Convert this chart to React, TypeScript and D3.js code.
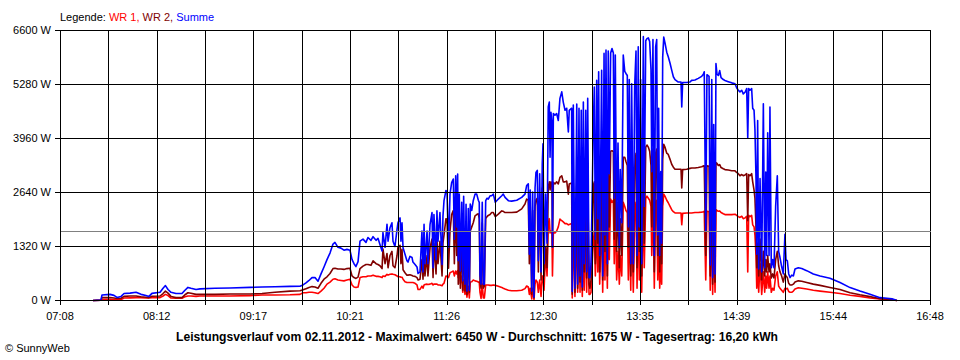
import React, { useEffect } from "react";
import * as d3 from "d3";

// time of each sample, minutes after midnight
const times = [
  450.0, 455.3, 456.0, 461.3, 464.0, 466.0, 468.7, 470.7, 474.7, 478.7,
  482.0, 485.3, 487.3, 489.3, 494.7, 496.7, 498.3, 500.0, 502.0, 505.3,
  509.3, 511.3, 513.3, 515.3, 518.7, 521.3, 531.3, 541.3, 554.7, 562.7,
  571.3, 581.3, 588.0, 590.0, 592.0, 594.0, 596.0, 598.0, 600.0, 602.0,
  604.0, 606.0, 608.0, 610.0, 611.3, 613.3, 615.3, 617.3, 619.3, 621.3,
  622.7, 624.0, 625.3, 626.7, 628.0, 630.0, 632.0, 633.3, 635.3, 636.7,
  638.7, 640.0, 641.3, 642.7, 643.3, 644.7, 646.0, 646.7, 648.0, 649.3,
  650.0, 651.3, 652.7, 653.3, 654.7, 655.3, 656.0, 656.7, 658.0, 659.3,
  660.0, 661.3, 662.7, 663.3, 664.7, 666.0, 666.7, 668.0, 669.3, 670.0,
  670.7, 671.3, 672.7, 673.3, 674.7, 676.0, 676.7, 677.3, 678.7, 679.3,
  680.0, 681.3, 682.7, 683.3, 684.0, 685.3, 686.0, 687.0, 688.0, 689.1,
  690.2, 690.9, 691.8, 692.5, 693.1, 693.5, 694.2, 694.9, 695.8, 696.5,
  697.1, 698.0, 698.7, 699.3, 700.2, 700.9, 701.5, 702.5, 703.5, 704.7,
  705.8, 706.9, 707.5, 708.0, 708.7, 709.5, 710.2, 710.9, 711.8, 712.7,
  713.5, 714.7, 715.8, 716.9, 718.2, 720.2, 722.5, 723.5, 724.7, 726.9,
  729.1, 732.5, 735.8, 738.0, 739.1, 740.2, 740.9, 741.5, 742.5, 743.1,
  744.0, 744.7, 745.3, 746.2, 746.9, 747.8, 748.7, 749.5, 750.0, 750.7,
  751.7, 752.7, 753.5, 754.2, 754.7, 755.3, 756.0, 756.3, 756.9, 758.0,
  759.1, 760.2, 761.3, 762.5, 763.5, 764.7, 765.8, 766.9, 767.5, 769.1,
  769.5, 770.2, 771.3, 772.5, 773.1, 774.0, 774.7, 775.5, 776.2, 776.9,
  777.5, 778.5, 779.1, 779.8, 780.7, 781.3, 782.0, 782.9, 783.5, 784.2,
  784.9, 785.8, 786.5, 787.1, 787.8, 789.1, 789.8, 790.7, 791.3, 792.0,
  792.9, 793.5, 794.2, 795.1, 796.0, 796.9, 797.5, 798.2, 799.1, 800.0,
  800.9, 801.5, 802.5, 803.5, 804.5, 805.3, 806.2, 806.9, 807.5, 808.5,
  809.1, 810.2, 811.1, 812.0, 812.7, 813.5, 814.2, 815.1, 815.8, 816.9,
  817.5, 818.5, 819.3, 820.2, 821.1, 822.0, 822.5, 823.3, 824.2, 825.1,
  825.8, 826.5, 827.1, 827.8, 828.5, 829.1, 829.8, 830.5, 831.3, 832.5,
  833.5, 834.7, 835.8, 836.9, 838.0, 840.2, 842.0, 842.5, 843.1, 845.8,
  848.0, 849.1, 851.3, 853.5, 855.8, 856.9, 857.5, 858.5, 859.3, 860.7,
  861.5, 862.5, 863.1, 863.8, 864.7, 865.3, 866.0, 866.9, 867.8, 868.7,
  870.2, 871.3, 873.5, 875.8, 878.0, 879.1, 880.2, 881.3, 882.5, 883.5,
  884.7, 885.8, 886.5, 887.1, 888.0, 889.1, 889.8, 890.7, 891.3, 892.0,
  892.5, 893.1, 893.8, 894.7, 895.8, 896.9, 897.8, 898.5, 899.1, 899.8,
  900.7, 901.3, 902.2, 903.1, 904.0, 905.1, 906.2, 907.1, 908.0, 909.1,
  910.2, 911.3, 912.0, 912.9, 913.8, 914.7, 915.8, 916.9, 918.0, 920.2,
  922.5, 925.8, 930.2, 934.7, 941.3, 948.0, 954.7, 961.3, 968.0, 974.7,
  979.3, 982.7, 986.0,
];

// Summe (W)
const summe = [
  0, 10, 135, 150, 125, 75, 100, 170, 180, 200,
  150, 120, 100, 175, 200, 300, 365, 270, 200, 170,
  170, 250, 320, 300, 270, 285, 300, 305, 320, 330,
  335, 345, 350, 380, 430, 490, 560, 560, 470, 650,
  820, 1000, 1160, 1380, 1420, 1300, 1280, 1230, 1250, 1230,
  1000, 900, 830, 950, 1450, 1500, 1420, 1540, 1470, 1560,
  1470, 1520, 1370, 1210, 1660, 1300, 1860, 1450, 1780, 1900,
  1450, 1320, 1740, 1900, 2020, 1450, 1900, 1290, 1130, 970,
  940, 1080, 1050, 940, 880, 820, 660, 700, 1700, 700,
  1860, 900, 1700, 900, 1860, 2150, 800, 2100, 1000, 2190,
  1450, 2150, 880, 2050, 2440, 2690, 2650, 1300, 2600, 2880,
  2970, 1500, 3050, 1800, 3090, 970, 2600, 720, 2400, 480,
  2550, 400, 2350, 230, 2250, 250, 2360, 2200, 2440, 2600,
  2600, 2450, 2400, 630, 400, 2400, 400, 400, 2440, 2500,
  2480, 2560, 2560, 2600, 2400, 2480, 2560, 2600, 2520, 2440,
  2430, 2450, 2520, 2600, 2810, 2850, 1130, 2700, 230, 2650,
  80, 2750, 3130, 3180, 970, 3100, 700, 3340, 3830, 900,
  2600, 1400, 4730, 4850, 3500, 4600, 4320, 1300, 4570, 4530,
  4570, 4400, 4940, 5100, 4850, 4650, 4700, 4120, 4650, 4700,
  220, 4780, 300, 4800, 400, 4700, 600, 4650, 330, 4850,
  900, 4650, 700, 4940, 560, 560, 900, 2800, 4200, 5220,
  1500, 5380, 2000, 5590, 1100, 5630, 600, 6040, 1600, 6120,
  900, 6100, 3100, 6050, 6160, 6050, 2500, 6000, 1700, 3850,
  1300, 3200, 1900, 6000, 5600, 5550, 5500, 1800, 5400, 900,
  5300, 900, 5220, 6100, 1100, 6200, 1800, 5400, 900, 6450,
  2300, 6350, 6400, 6420, 6330, 5650, 3150, 6380, 1100, 6200,
  6380, 1600, 4700, 1100, 3150, 1400, 5950, 6440, 6300, 6070,
  5960, 5800, 5630, 5470, 5400, 5340, 5340, 4730, 5330, 5330,
  5340, 5380, 5390, 5430, 5480, 5530, 5590, 1700, 5520, 5480,
  870, 5400, 560, 4300, 650, 5790, 5530, 5500, 5620, 5450,
  5400, 5380, 5350, 5320, 5300, 5200, 5140, 5100, 5140, 5050,
  5090, 5180, 3980, 5180, 5140, 5180, 4700, 4650, 4180, 2980,
  1130, 4400, 770, 2980, 700, 4810, 800, 3140, 1100, 4100,
  1100, 4730, 800, 1000, 800, 2300, 3050, 1200, 1050, 830,
  650, 1620, 1000, 970, 650, 560, 620, 600, 770, 800,
  780, 730, 650, 600, 545, 440, 315, 230, 150, 70,
  55, 40, 0,
];

// WR 2 (W)
const wr2 = [
  0, 10, 70, 75, 60, 50, 55, 100, 110, 110,
  90, 80, 70, 105, 110, 170, 230, 180, 100, 70,
  70, 140, 190, 175, 150, 150, 150, 160, 160, 170,
  200, 230, 240, 260, 290, 320, 340, 330, 300, 420,
  520, 580, 660, 780, 790, 770, 770, 760, 780, 790,
  600, 560, 540, 570, 780, 840, 880, 880, 860, 970,
  900, 880, 850, 780, 1260, 900, 1150, 800, 1100, 1200,
  850, 800, 1100, 1300, 1350, 900, 1250, 750, 680, 620,
  620, 630, 610, 600, 590, 560, 500, 520, 1000, 520,
  1150, 600, 1100, 600, 1300, 1500, 560, 1400, 650, 1500,
  900, 1450, 600, 1400, 1600, 2000, 1980, 790, 1700, 2100,
  2200, 900, 2300, 1100, 2310, 400, 1900, 300, 1600, 250,
  1700, 230, 1500, 150, 1400, 200, 1700, 1800, 1900, 2070,
  2100, 2120, 2000, 450, 300, 1900, 300, 350, 2000, 2050,
  2080, 2100, 2150, 2150, 2050, 2110, 2190, 2180, 2150, 2150,
  2150, 2160, 2240, 2360, 2480, 2450, 900, 2300, 150, 2200,
  60, 2300, 2450, 2500, 700, 2600, 500, 2750, 2750, 600,
  1300, 800, 2760, 2900, 2700, 2900, 2850, 1300, 2890, 2850,
  2900, 2850, 3010, 3050, 2900, 2900, 2920, 2600, 2850, 2870,
  150, 2880, 200, 2880, 300, 2870, 450, 2860, 250, 2900,
  700, 2850, 550, 2900, 400, 300, 500, 1600, 2800, 2900,
  900, 3000, 1400, 3200, 700, 3200, 500, 3500, 1200, 3600,
  600, 3650, 1800, 3650, 3660, 3640, 1500, 3600, 1200, 2400,
  800, 2000, 1100, 3500, 3500, 3400, 3300, 1300, 3300, 600,
  3260, 700, 3250, 3600, 800, 3600, 1200, 3300, 600, 3800,
  1400, 3750, 3800, 3750, 3650, 3300, 1800, 3700, 700, 3600,
  3700, 1100, 2800, 700, 2000, 900, 3450, 3820, 3750, 3600,
  3570, 3450, 3330, 3260, 3210, 3210, 3210, 2750, 3200, 3210,
  3230, 3240, 3240, 3250, 3270, 3290, 3290, 1100, 3290, 3280,
  600, 3250, 400, 2500, 450, 3370, 3350, 3300, 3320, 3250,
  3220, 3200, 3190, 3170, 3170, 3130, 3100, 3050, 3080, 3050,
  3070, 3100, 1950, 3080, 3050, 3100, 2900, 2700, 2500, 1800,
  800, 1400, 600, 1500, 500, 1200, 600, 1000, 700, 1100,
  700, 900, 550, 650, 550, 1000, 1200, 850, 700, 600,
  450, 650, 600, 560, 420, 380, 380, 400, 450, 480,
  470, 440, 400, 370, 320, 270, 190, 140, 95, 45,
  30, 20, 0,
];

// WR 1 (W)
const wr1 = [
  0, 10, 25, 30, 25, 20, 25, 60, 65, 70,
  70, 60, 60, 70, 70, 110, 150, 120, 60, 55,
  55, 90, 110, 110, 100, 110, 110, 110, 120, 135,
  135, 140, 150, 190, 190, 200, 200, 190, 170, 230,
  300, 400, 450, 520, 530, 500, 490, 480, 500, 520,
  380, 330, 320, 330, 560, 580, 580, 600, 600, 620,
  590, 590, 580, 560, 600, 590, 640, 620, 640, 650,
  640, 630, 600, 580, 580, 570, 570, 520, 460, 440,
  440, 440, 440, 440, 420, 380, 270, 270, 350, 300,
  380, 390, 400, 390, 400, 420, 380, 400, 400, 400,
  380, 380, 360, 400, 420, 600, 590, 560, 680, 700,
  720, 600, 720, 650, 730, 560, 700, 420, 600, 200,
  500, 150, 400, 80, 350, 60, 450, 460, 500, 480,
  470, 450, 450, 200, 50, 400, 60, 60, 380, 380,
  380, 370, 370, 380, 370, 350, 320, 300, 280, 250,
  240, 240, 250, 290, 355, 330, 150, 300, 40, 300,
  20, 400, 500, 450, 200, 500, 100, 600, 600, 250,
  1200, 600, 1850, 2000, 1650, 1700, 1620, 600, 1660, 1650,
  1700, 1800, 1990, 1950, 1920, 1880, 1880, 1850, 1860, 1880,
  60, 1880, 100, 1880, 200, 1900, 200, 1900, 100, 1890,
  250, 1880, 200, 1900, 150, 150, 200, 1000, 1400, 1700,
  600, 1900, 700, 2100, 400, 2100, 200, 2300, 500, 2450,
  300, 2450, 1000, 2480, 2400, 2450, 900, 2400, 500, 1200,
  400, 1100, 600, 2400, 2300, 2200, 2150, 500, 2100, 250,
  2050, 200, 2000, 2400, 300, 2400, 500, 2100, 200, 2550,
  800, 2500, 2550, 2500, 2450, 2300, 1100, 2500, 300, 2400,
  2450, 500, 1700, 300, 1000, 400, 2300, 2600, 2550, 2450,
  2390, 2300, 2220, 2170, 2140, 2140, 2140, 1850, 2130, 2140,
  2140, 2140, 2150, 2150, 2160, 2170, 2180, 500, 2180, 2170,
  250, 2160, 150, 1600, 200, 2220, 2200, 2180, 2190, 2150,
  2120, 2100, 2100, 2100, 2110, 2080, 2050, 2030, 2060, 2000,
  2020, 2060, 700, 2080, 2050, 2080, 1850, 1800, 1600, 1100,
  300, 800, 200, 900, 150, 700, 200, 600, 300, 700,
  300, 600, 200, 300, 250, 600, 700, 350, 300, 250,
  200, 300, 280, 300, 220, 200, 200, 230, 280, 310,
  300, 280, 250, 230, 200, 170, 130, 100, 60, 40,
  25, 15, 0,
];

const yTickValues = [0, 1320, 2640, 3960, 5280, 6600];
const xTickLabels = ["07:08", "08:12", "09:17", "10:21", "11:26", "12:30", "13:35", "14:39", "15:44", "16:48"];
const dayStart = 428; // 07:08
const dayEnd = 1008; // 16:48
const averageW = 1675;
const legendNames = ["WR 1", "WR 2", "Summe"];
const seriesColors = ["#ff0000", "#800000", "#0000ff"];
const titleText =
  "Leistungsverlauf vom 02.11.2012 - Maximalwert: 6450 W - Durchschnitt: 1675 W - Tagesertrag: 16,20 kWh";
const creditText = "\u00A9 SunnyWeb";

export default function App() {
  useEffect(() => {
    document.body.style.margin = "0";
  }, []);

  const x = d3.scaleLinear().domain([dayStart, dayEnd]).range([60, 930]);
  const y = d3.scaleLinear().domain([0, 6600]).range([300, 30]);
  const crisp = (v: number) => Math.round(v) + 0.5;
  const n = Math.min(times.length, summe.length, wr1.length, wr2.length);
  const idx = d3.range(n);
  const mk = (vals: number[]) =>
    d3
      .line<number>()
      .x((i) => x(times[i]))
      .y((i) => y(vals[i]) + 0.5)(idx) || "";
  const gridTimes = d3.range(19).map((i) => dayStart + (i * (dayEnd - dayStart)) / 18);
  const font = "'Liberation Sans', Arial, Helvetica, sans-serif";
  const x0 = crisp(x(dayStart));
  const x1 = crisp(x(dayEnd));

  return (
    <svg width={960} height={360} style={{ display: "block", background: "#fff" }} fontFamily={font}>
      <rect x={0} y={0} width={960} height={360} fill="#ffffff" />
      {/* series: WR 1, WR 2, then Summe on top */}
      <path d={mk(wr1)} fill="none" stroke={seriesColors[0]} strokeWidth={1.6} strokeLinejoin="round" />
      <path d={mk(wr2)} fill="none" stroke={seriesColors[1]} strokeWidth={1.6} strokeLinejoin="round" />
      <path d={mk(summe)} fill="none" stroke={seriesColors[2]} strokeWidth={1.6} strokeLinejoin="round" />

      {/* grid */}
      <g stroke="#000" strokeWidth={1} shapeRendering="crispEdges">
        {yTickValues.map((v) => (
          <line key={"h" + v} x1={55} x2={x1} y1={crisp(y(v))} y2={crisp(y(v))} />
        ))}
        {gridTimes.map((t, i) => (
          <line key={"v" + i} x1={crisp(x(t))} x2={crisp(x(t))} y1={crisp(y(6600))} y2={305} />
        ))}
      </g>
      <line
        x1={x0}
        x2={x1}
        y1={crisp(y(averageW))}
        y2={crisp(y(averageW))}
        stroke="#808080"
        strokeWidth={1}
        shapeRendering="crispEdges"
      />

      {/* y labels */}
      <g fontSize={11} fill="#000" textAnchor="end">
        {yTickValues.map((v) => (
          <text key={"yl" + v} x={51} y={y(v) + 4}>
            {v} W
          </text>
        ))}
      </g>
      {/* x labels */}
      <g fontSize={11} fill="#000" textAnchor="middle">
        {xTickLabels.map((lab, i) => (
          <text key={"xl" + i} x={x(gridTimes[i * 2])} y={320}>
            {lab}
          </text>
        ))}
      </g>

      {/* legend */}
      <text x={60} y={21} fontSize={11} fill="#000">
        Legende:{" "}
        {legendNames.map((name, i) => (
          <tspan key={name} fill={seriesColors[i]}>
            {name}
            {i < legendNames.length - 1 ? ", " : ""}
          </tspan>
        ))}
      </text>

      {/* title */}
      <text x={176} y={341} fontSize={12} fontWeight="bold" fill="#000" textLength={602} lengthAdjust="spacingAndGlyphs">
        {titleText}
      </text>
      <text x={5} y={352} fontSize={11} fill="#000">
        {creditText}
      </text>
    </svg>
  );
}
